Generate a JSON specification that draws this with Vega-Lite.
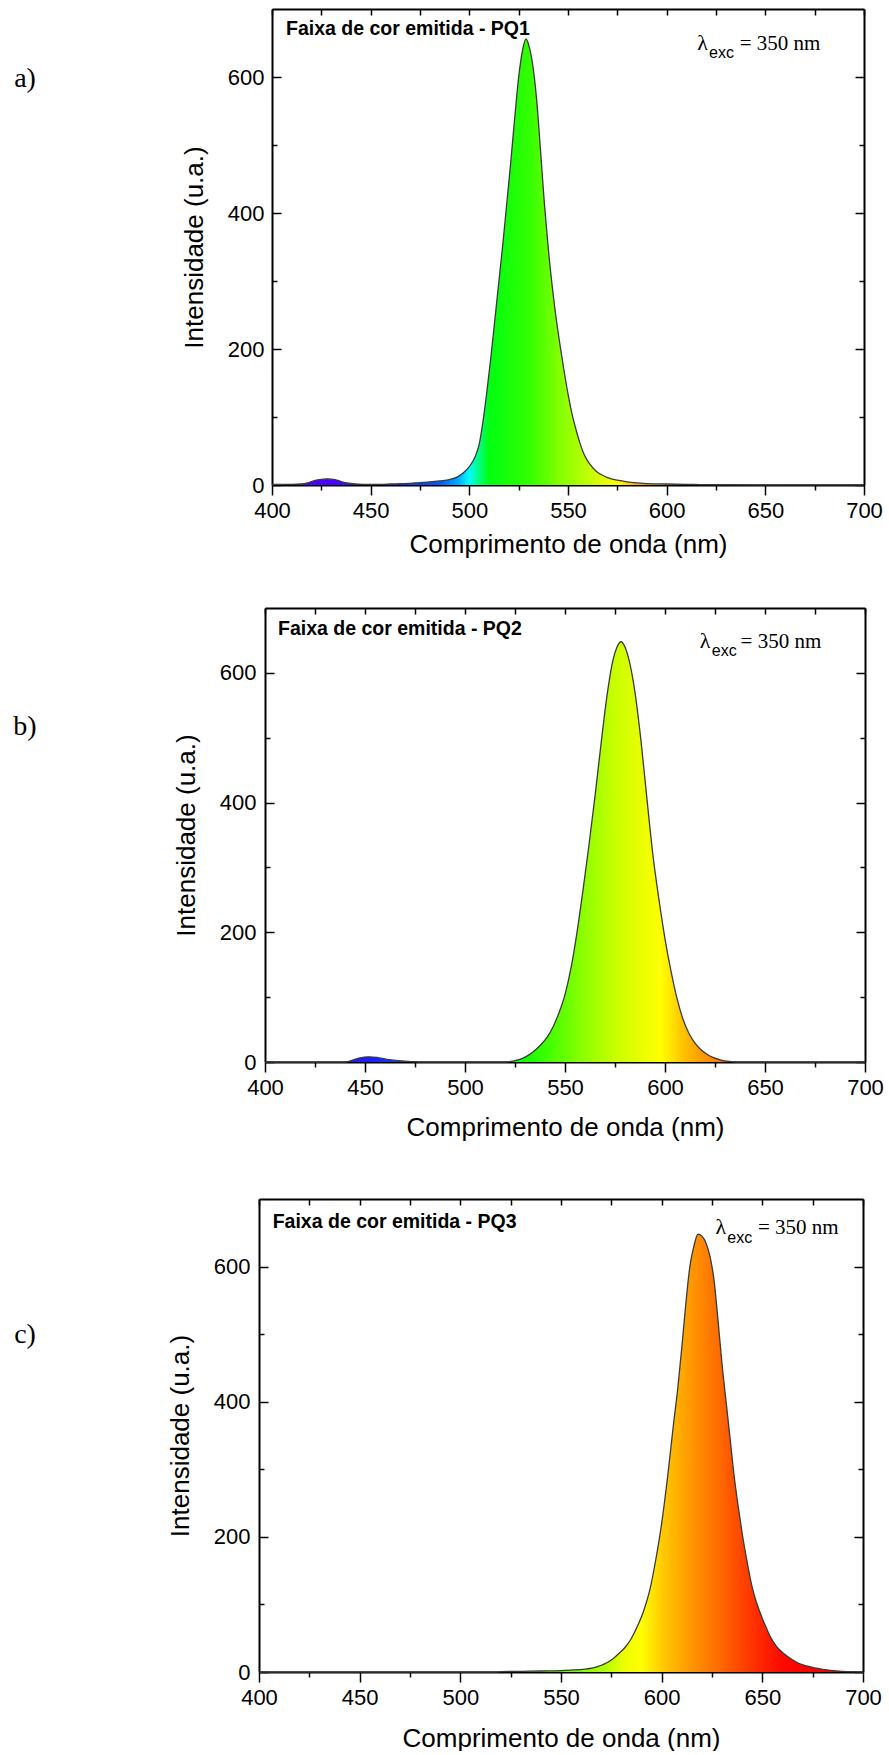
{
  "$schema": "https://vega.github.io/schema/vega-lite/v6.json",
  "background": "white",
  "padding": {"left": 0, "top": 8, "right": 0, "bottom": 0},
  "config": {
    "view": {"stroke": null},
    "font": "Liberation Sans",
    "axis": {
      "grid": false,
      "zindex": 1,
      "domainColor": "black",
      "domainWidth": 2,
      "tickColor": "black",
      "tickWidth": 1.5,
      "labelColor": "black",
      "labelFont": "Liberation Sans",
      "labelFontSize": 22,
      "labelFlush": false,
      "titleColor": "black",
      "titleFont": "Liberation Sans",
      "titleFontSize": 26,
      "titleFontWeight": "normal"
    }
  },
  "datasets": {
    "pq1": [
      {"wl": 400, "I": 1}, {"wl": 405, "I": 1}, {"wl": 410, "I": 1}, {"wl": 415, "I": 1.5},
      {"wl": 418, "I": 3}, {"wl": 421, "I": 6}, {"wl": 424, "I": 8}, {"wl": 428, "I": 9},
      {"wl": 432, "I": 8}, {"wl": 435, "I": 5}, {"wl": 438, "I": 3}, {"wl": 442, "I": 1.5},
      {"wl": 446, "I": 1}, {"wl": 450, "I": 1}, {"wl": 455, "I": 1}, {"wl": 460, "I": 1.5},
      {"wl": 465, "I": 2}, {"wl": 470, "I": 2.5}, {"wl": 475, "I": 3.5}, {"wl": 480, "I": 4.5},
      {"wl": 485, "I": 6}, {"wl": 490, "I": 8}, {"wl": 494, "I": 12}, {"wl": 497, "I": 18},
      {"wl": 500, "I": 27}, {"wl": 503, "I": 42}, {"wl": 505, "I": 60}, {"wl": 507, "I": 95},
      {"wl": 509, "I": 140}, {"wl": 511, "I": 190}, {"wl": 513, "I": 245}, {"wl": 515, "I": 300},
      {"wl": 517, "I": 355}, {"wl": 519, "I": 415}, {"wl": 521, "I": 475}, {"wl": 523, "I": 540},
      {"wl": 525, "I": 600}, {"wl": 527, "I": 640}, {"wl": 528.7, "I": 656}, {"wl": 530, "I": 648},
      {"wl": 532, "I": 620}, {"wl": 534, "I": 570}, {"wl": 536, "I": 495}, {"wl": 538, "I": 415},
      {"wl": 540, "I": 348}, {"wl": 542, "I": 292}, {"wl": 544, "I": 245}, {"wl": 546, "I": 205},
      {"wl": 548, "I": 168}, {"wl": 550, "I": 134}, {"wl": 552, "I": 105}, {"wl": 554, "I": 82},
      {"wl": 556, "I": 62}, {"wl": 558, "I": 46}, {"wl": 561, "I": 31}, {"wl": 564, "I": 21},
      {"wl": 567, "I": 15}, {"wl": 570, "I": 11}, {"wl": 575, "I": 7}, {"wl": 580, "I": 4.5},
      {"wl": 585, "I": 3}, {"wl": 590, "I": 2}, {"wl": 600, "I": 1.5}, {"wl": 610, "I": 1},
      {"wl": 620, "I": 0.5}, {"wl": 650, "I": 0.3}, {"wl": 700, "I": 0.2}
    ],
    "pq2": [
      {"wl": 400, "I": 0}, {"wl": 440, "I": 0}, {"wl": 443, "I": 2}, {"wl": 447, "I": 6},
      {"wl": 452, "I": 8}, {"wl": 456, "I": 7}, {"wl": 461, "I": 4}, {"wl": 467, "I": 2},
      {"wl": 473, "I": 0.7}, {"wl": 478, "I": 0}, {"wl": 520, "I": 0}, {"wl": 523, "I": 1},
      {"wl": 526, "I": 3}, {"wl": 529, "I": 6}, {"wl": 532, "I": 11}, {"wl": 535, "I": 18},
      {"wl": 538, "I": 27}, {"wl": 541, "I": 38}, {"wl": 544, "I": 54}, {"wl": 547, "I": 76},
      {"wl": 550, "I": 104}, {"wl": 553, "I": 145}, {"wl": 556, "I": 200}, {"wl": 559, "I": 265},
      {"wl": 562, "I": 335}, {"wl": 565, "I": 410}, {"wl": 568, "I": 490}, {"wl": 571, "I": 565},
      {"wl": 574, "I": 620}, {"wl": 576, "I": 640}, {"wl": 578, "I": 648}, {"wl": 580, "I": 640},
      {"wl": 582, "I": 620}, {"wl": 585, "I": 570}, {"wl": 588, "I": 495}, {"wl": 591, "I": 405},
      {"wl": 594, "I": 318}, {"wl": 597, "I": 250}, {"wl": 600, "I": 190}, {"wl": 603, "I": 140},
      {"wl": 606, "I": 98}, {"wl": 609, "I": 66}, {"wl": 612, "I": 44}, {"wl": 615, "I": 29},
      {"wl": 618, "I": 19}, {"wl": 621, "I": 12}, {"wl": 624, "I": 7}, {"wl": 628, "I": 3},
      {"wl": 632, "I": 1}, {"wl": 636, "I": 0}, {"wl": 700, "I": 0}
    ],
    "pq3": [
      {"wl": 400, "I": 0}, {"wl": 517, "I": 0}, {"wl": 520, "I": 0.5}, {"wl": 530, "I": 1},
      {"wl": 540, "I": 1.5}, {"wl": 550, "I": 2}, {"wl": 556, "I": 3}, {"wl": 561, "I": 4},
      {"wl": 566, "I": 6}, {"wl": 570, "I": 10}, {"wl": 573, "I": 14}, {"wl": 576, "I": 20},
      {"wl": 579, "I": 28}, {"wl": 582, "I": 37}, {"wl": 585, "I": 50}, {"wl": 588, "I": 68},
      {"wl": 591, "I": 90}, {"wl": 594, "I": 120}, {"wl": 597, "I": 165}, {"wl": 600, "I": 220},
      {"wl": 603, "I": 290}, {"wl": 606, "I": 370}, {"wl": 608, "I": 420}, {"wl": 610, "I": 480},
      {"wl": 612, "I": 545}, {"wl": 614, "I": 600}, {"wl": 616, "I": 630}, {"wl": 618, "I": 648},
      {"wl": 620, "I": 645}, {"wl": 622, "I": 635}, {"wl": 624, "I": 615}, {"wl": 626, "I": 580},
      {"wl": 628, "I": 520}, {"wl": 630, "I": 455}, {"wl": 632, "I": 400}, {"wl": 634, "I": 345},
      {"wl": 636, "I": 290}, {"wl": 638, "I": 245}, {"wl": 640, "I": 205}, {"wl": 642, "I": 170},
      {"wl": 645, "I": 125}, {"wl": 648, "I": 95}, {"wl": 651, "I": 72}, {"wl": 654, "I": 52},
      {"wl": 657, "I": 38}, {"wl": 660, "I": 29}, {"wl": 664, "I": 20}, {"wl": 668, "I": 13},
      {"wl": 672, "I": 9}, {"wl": 676, "I": 6}, {"wl": 680, "I": 4}, {"wl": 685, "I": 2},
      {"wl": 690, "I": 1}, {"wl": 694, "I": 0.5}, {"wl": 700, "I": 0}
    ]
  },
  "vconcat": [
    {
      "spacing": 50,
      "vconcat": [
        {
          "spacing": 131,
          "hconcat": [
            {
              "width": 50, "height": 140,
              "data": {"values": [{"tag": "a)"}]},
              "mark": {"type": "text", "font": "Liberation Serif", "fontSize": 28, "align": "center", "baseline": "middle", "color": "black"},
              "encoding": {"text": {"field": "tag"}}
            },
            {
              "width": 592, "height": 476,
              "data": {"name": "pq1"},
              "layer": [
                {
                  "mark": {"type": "area", "interpolate": "monotone",
                    "fill": {"gradient": "linear", "x1": 0, "y1": 0, "x2": 1, "y2": 0, "stops": [
                      {"offset": 0, "color": "#6000ff"}, {"offset": 0.1, "color": "#4a00ff"},
                      {"offset": 0.2333, "color": "#0a3cff"}, {"offset": 0.2833, "color": "#005aff"},
                      {"offset": 0.3167, "color": "#00b4ff"}, {"offset": 0.3333, "color": "#00ffff"},
                      {"offset": 0.35, "color": "#00ff7a"}, {"offset": 0.3667, "color": "#00ff10"},
                      {"offset": 0.4333, "color": "#30ff00"}, {"offset": 0.4833, "color": "#80ff00"},
                      {"offset": 0.5333, "color": "#bfff00"}, {"offset": 0.5667, "color": "#eaff00"},
                      {"offset": 0.5833, "color": "#ffff00"}, {"offset": 0.6167, "color": "#ffb000"},
                      {"offset": 1, "color": "#ff0000"}]}},
                  "encoding": {
                    "x": {"field": "wl", "type": "quantitative", "scale": {"domain": [400, 700], "nice": false, "zero": false},
                      "axis": {"orient": "bottom", "title": "Comprimento de onda (nm)",
                        "values": [400, 425, 450, 475, 500, 525, 550, 575, 600, 625, 650, 675, 700],
                        "labelExpr": "datum.value % 50 === 0 ? datum.label : ''",
                        "tickSize": {"condition": {"test": "datum.value % 50 === 0", "value": 10}, "value": 5},
                        "labelPadding": 5, "titlePadding": 10}},
                    "y": {"field": "I", "type": "quantitative", "scale": {"domain": [0, 700], "nice": false},
                      "axis": {"orient": "left", "title": "Intensidade (u.a.)",
                        "values": [0, 100, 200, 300, 400, 500, 600],
                        "labelExpr": "datum.value % 200 === 0 ? datum.label : ''",
                        "tickSize": {"condition": {"test": "datum.value % 200 === 0", "value": -9}, "value": -5},
                        "labelPadding": 17, "titlePadding": 20}}
                  }
                },
                {
                  "mark": {"type": "line", "interpolate": "monotone", "color": "#3a3a3a", "strokeWidth": 1.3},
                  "encoding": {
                    "x": {"field": "wl", "type": "quantitative",
                      "axis": {"orient": "top", "title": null, "labels": false,
                        "values": [400, 425, 450, 475, 500, 525, 550, 575, 600, 625, 650, 675, 700], "tickSize": -6}},
                    "y": {"field": "I", "type": "quantitative",
                      "axis": {"orient": "right", "title": null, "labels": false,
                        "values": [0, 100, 200, 300, 400, 500, 600],
                        "tickSize": {"condition": {"test": "datum.value % 200 === 0", "value": -9}, "value": -5}}}
                  }
                },
                {
                  "data": {"values": [{"t": "Faixa de cor emitida - PQ1"}]},
                  "mark": {"type": "text", "fontWeight": "bold", "fontSize": 19.5, "align": "left", "baseline": "alphabetic", "color": "black"},
                  "encoding": {"x": {"datum": 407.1, "type": "quantitative", "axis": null}, "y": {"datum": 661.8, "type": "quantitative", "axis": null}, "text": {"field": "t"}}
                },
                {
                  "data": {"values": [{"t": "λ"}]},
                  "mark": {"type": "text", "font": "Liberation Serif", "fontSize": 22, "align": "left", "baseline": "alphabetic", "color": "black"},
                  "encoding": {"x": {"datum": 615.5, "type": "quantitative", "axis": null}, "y": {"datum": 640, "type": "quantitative", "axis": null}, "text": {"field": "t"}}
                },
                {
                  "data": {"values": [{"t": "exc"}]},
                  "mark": {"type": "text", "fontSize": 16, "align": "left", "baseline": "alphabetic", "color": "black"},
                  "encoding": {"x": {"datum": 621.5, "type": "quantitative", "axis": null}, "y": {"datum": 628, "type": "quantitative", "axis": null}, "text": {"field": "t"}}
                },
                {
                  "data": {"values": [{"t": "= 350 nm"}]},
                  "mark": {"type": "text", "font": "Liberation Serif", "fontSize": 21, "align": "left", "baseline": "alphabetic", "color": "black"},
                  "encoding": {"x": {"datum": 637, "type": "quantitative", "axis": null}, "y": {"datum": 640, "type": "quantitative", "axis": null}, "text": {"field": "t"}}
                }
              ],
              "resolve": {"axis": {"x": "independent", "y": "independent"}}
            }
          ]
        },
        {
          "spacing": 123,
          "hconcat": [
            {
              "width": 50, "height": 238,
              "data": {"values": [{"tag": "b)"}]},
              "mark": {"type": "text", "font": "Liberation Serif", "fontSize": 28, "align": "center", "baseline": "middle", "color": "black"},
              "encoding": {"text": {"field": "tag"}}
            },
            {
              "width": 600, "height": 454,
              "data": {"name": "pq2"},
              "layer": [
                {
                  "mark": {"type": "area", "interpolate": "monotone",
                    "fill": {"gradient": "linear", "x1": 0, "y1": 0, "x2": 1, "y2": 0, "stops": [
                      {"offset": 0, "color": "#3a00ff"}, {"offset": 0.1733, "color": "#1e1eff"},
                      {"offset": 0.2667, "color": "#0050ff"}, {"offset": 0.4, "color": "#00ff40"},
                      {"offset": 0.4333, "color": "#10ff00"}, {"offset": 0.4833, "color": "#50ff00"},
                      {"offset": 0.5333, "color": "#90ff00"}, {"offset": 0.5833, "color": "#c8ff00"},
                      {"offset": 0.6333, "color": "#eeff00"}, {"offset": 0.66, "color": "#ffff00"},
                      {"offset": 0.6933, "color": "#ffc800"}, {"offset": 0.7267, "color": "#ff9c00"},
                      {"offset": 0.7667, "color": "#ff7000"}, {"offset": 1, "color": "#ff0000"}]}},
                  "encoding": {
                    "x": {"field": "wl", "type": "quantitative", "scale": {"domain": [400, 700], "nice": false, "zero": false},
                      "axis": {"orient": "bottom", "title": "Comprimento de onda (nm)",
                        "values": [400, 425, 450, 475, 500, 525, 550, 575, 600, 625, 650, 675, 700],
                        "labelExpr": "datum.value % 50 === 0 ? datum.label : ''",
                        "tickSize": {"condition": {"test": "datum.value % 50 === 0", "value": 10}, "value": 5},
                        "labelPadding": 5, "titlePadding": 16}},
                    "y": {"field": "I", "type": "quantitative", "scale": {"domain": [0, 700], "nice": false},
                      "axis": {"orient": "left", "title": "Intensidade (u.a.)",
                        "values": [0, 100, 200, 300, 400, 500, 600],
                        "labelExpr": "datum.value % 200 === 0 ? datum.label : ''",
                        "tickSize": {"condition": {"test": "datum.value % 200 === 0", "value": -9}, "value": -5},
                        "labelPadding": 18, "titlePadding": 20}}
                  }
                },
                {
                  "mark": {"type": "line", "interpolate": "monotone", "color": "#3a3a3a", "strokeWidth": 1.3},
                  "encoding": {
                    "x": {"field": "wl", "type": "quantitative",
                      "axis": {"orient": "top", "title": null, "labels": false,
                        "values": [400, 425, 450, 475, 500, 525, 550, 575, 600, 625, 650, 675, 700], "tickSize": -6}},
                    "y": {"field": "I", "type": "quantitative",
                      "axis": {"orient": "right", "title": null, "labels": false,
                        "values": [0, 100, 200, 300, 400, 500, 600],
                        "tickSize": {"condition": {"test": "datum.value % 200 === 0", "value": -9}, "value": -5}}}
                  }
                },
                {
                  "data": {"values": [{"t": "Faixa de cor emitida - PQ2"}]},
                  "mark": {"type": "text", "fontWeight": "bold", "fontSize": 19.5, "align": "left", "baseline": "alphabetic", "color": "black"},
                  "encoding": {"x": {"datum": 406.5, "type": "quantitative", "axis": null}, "y": {"datum": 657.7, "type": "quantitative", "axis": null}, "text": {"field": "t"}}
                },
                {
                  "data": {"values": [{"t": "λ"}]},
                  "mark": {"type": "text", "font": "Liberation Serif", "fontSize": 22, "align": "left", "baseline": "alphabetic", "color": "black"},
                  "encoding": {"x": {"datum": 617.4, "type": "quantitative", "axis": null}, "y": {"datum": 638.8, "type": "quantitative", "axis": null}, "text": {"field": "t"}}
                },
                {
                  "data": {"values": [{"t": "exc"}]},
                  "mark": {"type": "text", "fontSize": 16, "align": "left", "baseline": "alphabetic", "color": "black"},
                  "encoding": {"x": {"datum": 623.4, "type": "quantitative", "axis": null}, "y": {"datum": 626, "type": "quantitative", "axis": null}, "text": {"field": "t"}}
                },
                {
                  "data": {"values": [{"t": "= 350 nm"}]},
                  "mark": {"type": "text", "font": "Liberation Serif", "fontSize": 21, "align": "left", "baseline": "alphabetic", "color": "black"},
                  "encoding": {"x": {"datum": 637.8, "type": "quantitative", "axis": null}, "y": {"datum": 638.8, "type": "quantitative", "axis": null}, "text": {"field": "t"}}
                }
              ],
              "resolve": {"axis": {"x": "independent", "y": "independent"}}
            }
          ]
        }
      ]
    },
    {
      "spacing": 117,
      "hconcat": [
        {
          "width": 50, "height": 272,
          "data": {"values": [{"tag": "c)"}]},
          "mark": {"type": "text", "font": "Liberation Serif", "fontSize": 28, "align": "center", "baseline": "middle", "color": "black"},
          "encoding": {"text": {"field": "tag"}}
        },
        {
          "width": 604, "height": 473,
          "data": {"name": "pq3"},
          "layer": [
            {
              "mark": {"type": "area", "interpolate": "monotone",
                "fill": {"gradient": "linear", "x1": 0, "y1": 0, "x2": 1, "y2": 0, "stops": [
                  {"offset": 0, "color": "#00ff00"}, {"offset": 0.5, "color": "#60ff00"},
                  {"offset": 0.5667, "color": "#a8ff00"}, {"offset": 0.6067, "color": "#f0ff00"},
                  {"offset": 0.6333, "color": "#ffff00"}, {"offset": 0.6667, "color": "#ffcc00"},
                  {"offset": 0.7067, "color": "#ffa000"}, {"offset": 0.74, "color": "#ff8000"},
                  {"offset": 0.7833, "color": "#ff5500"}, {"offset": 0.8267, "color": "#ff2a00"},
                  {"offset": 0.8667, "color": "#ff0800"}, {"offset": 0.9, "color": "#ff0000"},
                  {"offset": 1, "color": "#ff0000"}]}},
              "encoding": {
                "x": {"field": "wl", "type": "quantitative", "scale": {"domain": [400, 700], "nice": false, "zero": false},
                  "axis": {"orient": "bottom", "title": "Comprimento de onda (nm)",
                    "values": [400, 425, 450, 475, 500, 525, 550, 575, 600, 625, 650, 675, 700],
                    "labelExpr": "datum.value % 50 === 0 ? datum.label : ''",
                    "tickSize": {"condition": {"test": "datum.value % 50 === 0", "value": 10}, "value": 5},
                    "labelPadding": 5, "titlePadding": 17}},
                "y": {"field": "I", "type": "quantitative", "scale": {"domain": [0, 700], "nice": false},
                  "axis": {"orient": "left", "title": "Intensidade (u.a.)",
                    "values": [0, 100, 200, 300, 400, 500, 600],
                    "labelExpr": "datum.value % 200 === 0 ? datum.label : ''",
                    "tickSize": {"condition": {"test": "datum.value % 200 === 0", "value": -9}, "value": -5},
                    "labelPadding": 18, "titlePadding": 20}}
              }
            },
            {
              "mark": {"type": "line", "interpolate": "monotone", "color": "#3a3a3a", "strokeWidth": 1.3},
              "encoding": {
                "x": {"field": "wl", "type": "quantitative",
                  "axis": {"orient": "top", "title": null, "labels": false,
                    "values": [400, 425, 450, 475, 500, 525, 550, 575, 600, 625, 650, 675, 700], "tickSize": -6}},
                "y": {"field": "I", "type": "quantitative",
                  "axis": {"orient": "right", "title": null, "labels": false,
                    "values": [0, 100, 200, 300, 400, 500, 600],
                    "tickSize": {"condition": {"test": "datum.value % 200 === 0", "value": -9}, "value": -5}}}
              }
            },
            {
              "data": {"values": [{"t": "Faixa de cor emitida - PQ3"}]},
              "mark": {"type": "text", "fontWeight": "bold", "fontSize": 19.5, "align": "left", "baseline": "alphabetic", "color": "black"},
              "encoding": {"x": {"datum": 406.8, "type": "quantitative", "axis": null}, "y": {"datum": 657, "type": "quantitative", "axis": null}, "text": {"field": "t"}}
            },
            {
              "data": {"values": [{"t": "λ"}]},
              "mark": {"type": "text", "font": "Liberation Serif", "fontSize": 22, "align": "left", "baseline": "alphabetic", "color": "black"},
              "encoding": {"x": {"datum": 626.7, "type": "quantitative", "axis": null}, "y": {"datum": 647.6, "type": "quantitative", "axis": null}, "text": {"field": "t"}}
            },
            {
              "data": {"values": [{"t": "exc"}]},
              "mark": {"type": "text", "fontSize": 16, "align": "left", "baseline": "alphabetic", "color": "black"},
              "encoding": {"x": {"datum": 632.6, "type": "quantitative", "axis": null}, "y": {"datum": 635, "type": "quantitative", "axis": null}, "text": {"field": "t"}}
            },
            {
              "data": {"values": [{"t": "= 350 nm"}]},
              "mark": {"type": "text", "font": "Liberation Serif", "fontSize": 21, "align": "left", "baseline": "alphabetic", "color": "black"},
              "encoding": {"x": {"datum": 647.8, "type": "quantitative", "axis": null}, "y": {"datum": 647.6, "type": "quantitative", "axis": null}, "text": {"field": "t"}}
            }
          ],
          "resolve": {"axis": {"x": "independent", "y": "independent"}}
        }
      ]
    }
  ],
  "spacing": 58
}
